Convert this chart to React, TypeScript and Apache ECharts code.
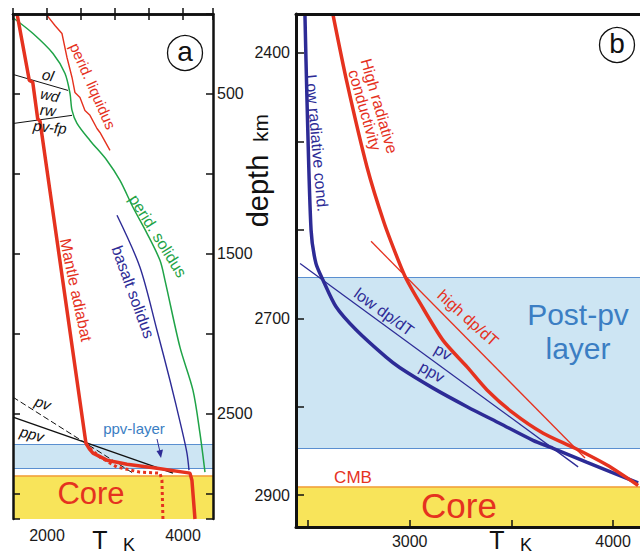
import React, { useEffect, useRef } from "react";
import * as echarts from "echarts";

// ---------- Panel (a) data: [T (K), depth (km)] ----------
const adiabat: number[][] = [
  [1560, 0], [1740, 416], [1790, 426], [1863, 655], [1897, 670], [2573, 2686],
  [2625, 2722], [2676, 2747], [2882, 2791], [3176, 2816], [3617, 2841],
  [4102, 2872], [4131, 2916], [4176, 3159],
];
const adiabatDotted: number[][] = [
  [2573, 2686], [2632, 2716], [2779, 2772], [3029, 2834], [3367, 2866],
  [3661, 2872], [3690, 2916], [3705, 3159],
];
const peridSolidus: number[][] = [
  [1515, 28], [1794, 122], [2088, 247], [2265, 372], [2338, 497], [2368, 603],
  [2441, 684], [2632, 791], [2882, 916], [3073, 1041], [3264, 1209],
  [3470, 1372], [3661, 1541], [3735, 1666], [3955, 2084], [4146, 2353],
  [4249, 2622], [4323, 2866],
];
const peridLiquidus: number[][] = [
  [2000, 9], [2117, 72], [2220, 122], [2294, 272], [2368, 397], [2411, 491],
  [2485, 522], [2558, 603], [2632, 634], [2735, 716], [2779, 741], [2926, 853],
];
const basaltSolidus: number[][] = [
  [3029, 1259], [3367, 1584], [3617, 1978], [3808, 2291], [3985, 2603],
  [4058, 2747], [4088, 2853],
];
const olWdLine: number[][] = [[1500, 378], [2309, 478]];
const rwPvLine: number[][] = [[1500, 685], [2368, 634]];
const pvBoundaryA: number[][] = [[1500, 2397], [3264, 2872]];
const ppvBoundaryA: number[][] = [[1500, 2522], [3853, 2872]];
const ppvLayerA: number[] = [2690, 2840];
const cmbDepth = 2891;

// ---------- Panel (b) data ----------
const highCond: number[][] = [
  [2623, 2357], [2692, 2434], [2790, 2529], [2874, 2592], [2943, 2634],
  [2982, 2655], [3051, 2683], [3164, 2725], [3282, 2755], [3380, 2781],
  [3508, 2807], [3656, 2830], [3813, 2847], [3970, 2866], [4123, 2889],
];
const lowCond: number[][] = [
  [2485, 2357], [2495, 2453], [2515, 2600], [2539, 2638], [2574, 2657],
  [2638, 2687], [2736, 2713], [2884, 2744], [2952, 2756], [3115, 2779],
  [3282, 2800], [3444, 2819], [3606, 2838], [3705, 2847], [3872, 2863],
  [4123, 2886],
];
const highDpdT: number[][] = [[2810, 2613], [3862, 2858]];
const lowDpdT: number[][] = [[2461, 2638], [3828, 2868]];
const postPvLayerB: number[] = [2654, 2847];

// ---------- axes ----------
const xTicksA = { min: 1500, max: 4441, interval: 500 };
const xLabelsA = [2000, 4000];
const yTicksA = { min: 0, max: 3159, interval: 500 };
const yLabelsA = [500, 1500, 2500];
const xRangeB = [2441, 4147];
const xTicksB = [2500, 3000, 3500, 4000];
const xLabelsB = [3000, 4000];
const yRangeB = [2356, 2936];
const yTicksB = [2400, 2500, 2600, 2700, 2800, 2900];
const yLabelsB = [2400, 2700, 2900];

const FONT = '"Liberation Sans", Arial, Helvetica, sans-serif';
const RED = "#e5321f";
const NAVY = "#2d2b96";
const GREEN = "#1fa347";
const TBLUE = "#3b7ec3";
const BAND = "#cde5f3";
const BANDLINE = "#5a8fd0";
const CORE = "#f8e45a";
const CORELINE = "#f09a2c";

function txt(text: string, x: number, y: number, size: number, color: string, rotDeg = 0, italic = false) {
  return {
    type: "text",
    x,
    y,
    rotation: (rotDeg * Math.PI) / 180,
    z: 100,
    silent: true,
    style: {
      text,
      fill: color,
      fontSize: size,
      fontFamily: FONT,
      fontStyle: italic ? "italic" : "normal",
      align: "center",
      verticalAlign: "middle",
    },
  };
}

export default function App() {
  const ref = useRef<HTMLDivElement>(null);
  useEffect(() => {
    if (!ref.current) return;
    const chart = echarts.init(ref.current, null, { renderer: "svg" });
    const axisLine = { show: true, lineStyle: { color: "#111", width: 2.5 } };
    const lbl = { fontSize: 16, color: "#1a1a1a", fontFamily: FONT };
    const line = (data: number[][], color: string, width: number, xi: number, yi: number, extra: any = {}) => ({
      type: "line",
      data,
      xAxisIndex: xi,
      yAxisIndex: yi,
      showSymbol: false,
      symbol: "none",
      silent: true,
      lineStyle: { color, width, ...(extra.lineStyle || {}) },
      smooth: extra.smooth || false,
      z: 5,
    });
    const bandSeries = (xi: number, yi: number, layer: number[], coreMax: number, pt: number[]) => ({
      type: "line",
      data: [pt],
      xAxisIndex: xi,
      yAxisIndex: yi,
      showSymbol: false,
      symbol: "none",
      silent: true,
      z: 1,
      lineStyle: { width: 0 },
      markArea: {
        silent: true,
        itemStyle: { color: BAND },
        data: [
          [{ yAxis: layer[0] }, { yAxis: layer[1] }],
          [{ yAxis: cmbDepth, itemStyle: { color: CORE } }, { yAxis: coreMax }],
        ],
      },
      markLine: {
        silent: true,
        symbol: ["none", "none"],
        label: { show: false },
        lineStyle: { color: BANDLINE, width: 1.2, type: "solid" },
        data: [
          { yAxis: layer[0] },
          { yAxis: layer[1] },
          { yAxis: cmbDepth, lineStyle: { color: CORELINE, width: 1.5, type: "solid" } },
        ],
      },
    });

    const option: any = {
      animation: false,
      backgroundColor: "#ffffff",
      grid: [
        { left: 13, top: 14, width: 200, height: 505 },
        { left: 296, top: 14, width: 347, height: 513 },
      ],
      xAxis: [
        {
          type: "value", gridIndex: 0, position: "bottom", ...xTicksA, z: 10,
          axisLine, splitLine: { show: false },
          axisTick: { show: true, inside: true, length: 6, lineStyle: { color: "#111", width: 1.5 } },
          axisLabel: { ...lbl, margin: 8, formatter: (v: number) => (xLabelsA.includes(v) ? String(v) : "") },
        },
        {
          type: "value", gridIndex: 0, position: "top", ...xTicksA, z: 10,
          axisLine, splitLine: { show: false },
          axisTick: { show: true, inside: true, length: 6, lineStyle: { color: "#111", width: 1.5 } },
          axisLabel: { show: false },
        },
        {
          type: "value", gridIndex: 1, position: "bottom", min: xRangeB[0], max: xRangeB[1], z: 10,
          axisLine: { show: true, lineStyle: { color: "#111", width: 3 } }, splitLine: { show: false },
          axisTick: { show: true, inside: true, length: 7, customValues: xTicksB, lineStyle: { color: "#111", width: 1.5 } },
          axisLabel: { ...lbl, margin: 6, customValues: xLabelsB, formatter: (v: number) => String(v) },
        },
        {
          type: "value", gridIndex: 1, position: "top", min: xRangeB[0], max: xRangeB[1], z: 10,
          axisLine: { show: true, lineStyle: { color: "#111", width: 3 } }, splitLine: { show: false },
          axisTick: { show: false }, axisLabel: { show: false },
        },
      ],
      yAxis: [
        {
          type: "value", gridIndex: 0, position: "right", inverse: true, ...yTicksA, z: 10,
          axisLine, splitLine: { show: false },
          axisTick: { show: true, inside: true, length: 7, lineStyle: { color: "#111", width: 1.5 } },
          axisLabel: { ...lbl, margin: 4, formatter: (v: number) => (yLabelsA.includes(v) ? String(v) : "") },
        },
        {
          type: "value", gridIndex: 0, position: "left", inverse: true, ...yTicksA, z: 10,
          axisLine, splitLine: { show: false },
          axisTick: { show: true, inside: true, length: 7, lineStyle: { color: "#111", width: 1.5 } },
          axisLabel: { show: false },
        },
        {
          type: "value", gridIndex: 1, position: "left", inverse: true, min: yRangeB[0], max: yRangeB[1], z: 10,
          axisLine: { show: true, lineStyle: { color: "#111", width: 3 } }, splitLine: { show: false },
          axisTick: { show: true, inside: true, length: 8, customValues: yTicksB, lineStyle: { color: "#111", width: 1.5 } },
          axisLabel: { ...lbl, margin: 6, customValues: yLabelsB, formatter: (v: number) => String(v) },
        },
        {
          type: "value", gridIndex: 1, position: "right", inverse: true, min: yRangeB[0], max: yRangeB[1], z: 10,
          axisLine: { show: true, lineStyle: { color: "#111", width: 3 } }, splitLine: { show: false },
          axisTick: { show: false }, axisLabel: { show: false },
        },
      ],
      series: [
        bandSeries(0, 0, ppvLayerA, yTicksA.max, [2000, 100]),
        line(olWdLine, "#111", 1, 0, 0),
        line(rwPvLine, "#111", 1, 0, 0),
        line(pvBoundaryA, "#111", 1, 0, 0, { lineStyle: { type: [6, 3] } }),
        line(ppvBoundaryA, "#111", 1.4, 0, 0),
        line(peridSolidus, GREEN, 1.5, 0, 0, { smooth: 0.3 }),
        line(peridLiquidus, RED, 1.4, 0, 0),
        line(basaltSolidus, NAVY, 1.4, 0, 0, { smooth: 0.3 }),
        line(adiabatDotted, RED, 3, 0, 0, { lineStyle: { type: [3, 3] } }),
        line(adiabat, RED, 3.5, 0, 0),
        bandSeries(2, 2, postPvLayerB, yRangeB[1], [3000, 2400]),
        line(lowDpdT, NAVY, 1.3, 2, 2),
        line(highDpdT, RED, 1.3, 2, 2),
        line(lowCond, NAVY, 3.5, 2, 2, { smooth: 0.25 }),
        line(highCond, RED, 3.5, 2, 2, { smooth: 0.25 }),
      ],
      graphic: [
        // panel a labels
        txt("perid. liquidus", 93, 86, 15, RED, -66),
        txt("ol", 48, 75, 15, "#111", -12, true),
        txt("wd", 50, 95, 15, "#111", -12, true),
        txt("rw", 48, 110, 15, "#111", -6, true),
        txt("pv-fp", 50, 127, 15, "#111", -6, true),
        txt("perid. solidus", 158, 236, 16, GREEN, -58),
        txt("basalt solidus", 133, 292, 16, NAVY, -70),
        txt("Mantle adiabat", 76, 290, 16, RED, -78),
        txt("pv", 43, 403, 15, "#111", -20, true),
        txt("ppv", 32, 434, 15, "#111", -15, true),
        txt("ppv-layer", 134, 428, 15, TBLUE),
        {
          type: "line", z: 100, silent: true,
          shape: { x1: 157, y1: 439, x2: 160, y2: 452 },
          style: { stroke: NAVY, lineWidth: 1 },
        },
        {
          type: "polygon", z: 100, silent: true,
          shape: { points: [[156.5, 451], [163, 449.5], [161, 458]] },
          style: { fill: NAVY },
        },
        txt("Core", 91, 493, 31, RED),
        txt("T", 100, 540, 25, "#111"),
        txt("K", 129, 545, 18, "#111"),
        { type: "circle", z: 100, silent: true, shape: { cx: 185, cy: 53, r: 17.5 }, style: { fill: "#fff", stroke: "#111", lineWidth: 1.3 } },
        txt("a", 185, 51, 28, "#111"),
        // depth label
        {
          type: "text", x: 258, y: 191, rotation: Math.PI / 2, z: 100, silent: true,
          style: { text: "depth", fill: "#111", fontSize: 29, fontFamily: FONT, align: "center", verticalAlign: "middle" },
        },
        {
          type: "text", x: 260, y: 128, rotation: Math.PI / 2, z: 100, silent: true,
          style: { text: "km", fill: "#111", fontSize: 21, fontFamily: FONT, align: "center", verticalAlign: "middle" },
        },
        // panel b labels
        {
          type: "text", x: 372, y: 108, rotation: (-74 * Math.PI) / 180, z: 100, silent: true,
          style: {
            text: "High radiative\nconductivity", fill: RED, fontSize: 16, fontFamily: FONT,
            align: "center", verticalAlign: "middle", lineHeight: 15,
          },
        },
        txt("Low radiative cond.", 317, 143, 16, NAVY, -85),
        txt("low dp/dT", 384, 312, 16, NAVY, -36),
        txt("pv", 443, 352, 16, NAVY, -30),
        txt("ppv", 432, 372, 16, NAVY, -30),
        txt("high dp/dT", 468, 318, 16, RED, -42),
        txt("Post-pv", 578, 314, 30, TBLUE),
        txt("layer", 578, 348, 30, TBLUE),
        txt("CMB", 353, 477, 17, RED),
        txt("Core", 459, 505, 35, RED),
        txt("T", 497, 540, 25, "#111"),
        txt("K", 526, 545, 18, "#111"),
        { type: "circle", z: 100, silent: true, shape: { cx: 617, cy: 45, r: 17.5 }, style: { fill: "#fff", stroke: "#111", lineWidth: 1.3 } },
        txt("b", 617, 43, 28, "#111"),
      ],
    };
    chart.setOption(option);
    return () => chart.dispose();
  }, []);
  return (
    <div style={{ position: "fixed", left: 0, top: 0, width: 640, height: 555, overflow: "hidden", background: "#fff" }}>
      <div ref={ref} style={{ width: 660, height: 555 }} />
    </div>
  );
}
